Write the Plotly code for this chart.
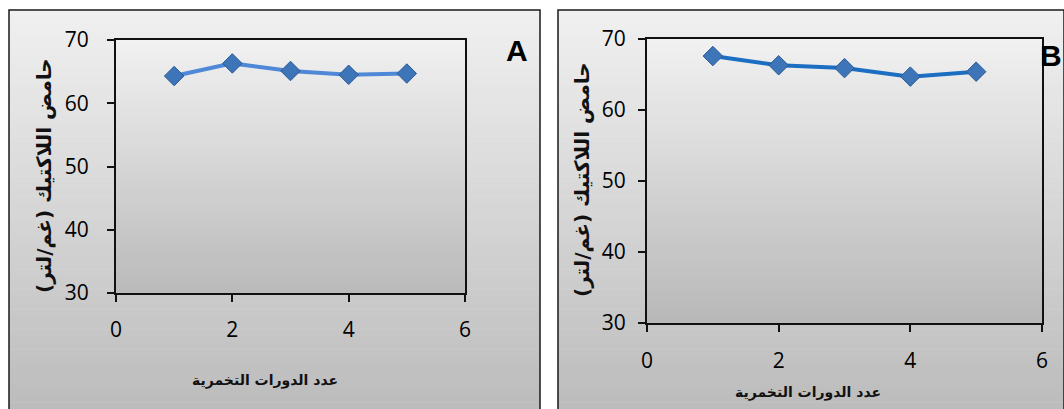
import plotly.graph_objects as go

W, H = 1064, 409

cycles = [1, 2, 3, 4, 5]
lactic_A = [64.3, 66.3, 65.1, 64.5, 64.7]
lactic_B = [67.6, 66.3, 65.9, 64.7, 65.4]
x_ticks = [0, 2, 4, 6]
y_ticks = [30, 40, 50, 60, 70]
y_title = "حامض اللاكتيك (غم/لتر)"
x_title = "عدد الدورات التخمرية"

def px(x):
    return x / W

def py(y):
    return 1 - y / H

def lerp(c0, c1, t):
    return "rgb(%d,%d,%d)" % tuple(round(a + (b - a) * t) for a, b in zip(c0, c1))

def gradient(x0, x1, y0, y1, ctop, cbot, n=60):
    shapes = []
    h = (y1 - y0) / n
    for i in range(n):
        t = i / (n - 1)
        shapes.append(dict(type="rect", xref="paper", yref="paper", layer="below",
                           x0=px(x0), x1=px(x1), y0=py(y0 + h * (i + 1) + 0.5), y1=py(y0 + h * i),
                           fillcolor=lerp(ctop, cbot, t), line=dict(width=0)))
    return shapes

shapes = []
# outer frames
shapes += gradient(9, 540, 10, 409, (240, 240, 240), (188, 188, 188))
shapes += gradient(558, 1064, 10, 409, (240, 240, 240), (188, 188, 188))
# plot areas
shapes += gradient(116, 465, 40, 293, (241, 241, 241), (186, 186, 186))
shapes += gradient(647, 1042, 39, 323, (241, 241, 241), (184, 184, 184))
# frame borders (open at the bottom / right, as in the cropped reference)
for (a, b) in [(9, 540), (558, 1064)]:
    shapes.append(dict(type="path", xref="paper", yref="paper", layer="above",
                       path="M %f,%f L %f,%f L %f,%f L %f,%f" % (px(a), 0, px(a), py(10), px(b), py(10), px(b), 0),
                       line=dict(color="#1a1a1a", width=1.5)))

fig = go.Figure()
fig.add_trace(go.Scatter(x=cycles, y=lactic_A, mode="lines+markers", xaxis="x", yaxis="y",
                         line=dict(color="#4f88d6", width=4),
                         marker=dict(symbol="diamond", size=15, color="#3e74b8",
                                     line=dict(color="#2b5a94", width=1)),
                         showlegend=False))
fig.add_trace(go.Scatter(x=cycles, y=lactic_B, mode="lines+markers", xaxis="x2", yaxis="y2",
                         line=dict(color="#1b6ec2", width=4),
                         marker=dict(symbol="diamond", size=15, color="#3e74b8",
                                     line=dict(color="#2b5a94", width=1)),
                         showlegend=False))

tickfont = dict(family="Open Sans", size=21, color="#000000")
common_x = dict(range=[0, 6], tickvals=x_ticks, ticks="outside", ticklen=7, tickwidth=1.5,
                tickcolor="#111", showline=True, linecolor="#111", linewidth=2, mirror=True,
                showgrid=False, zeroline=False, tickfont=tickfont, fixedrange=True, automargin=False)
common_y = dict(range=[30, 70], tickvals=y_ticks, ticks="outside", ticklen=7, tickwidth=1.5,
                tickcolor="#111", showline=True, linecolor="#111", linewidth=2, mirror=True,
                showgrid=False, zeroline=False, tickfont=tickfont, fixedrange=True, automargin=False)

fig.update_layout(
    width=W, height=H, margin=dict(l=0, r=0, t=0, b=0, pad=0), autosize=False,
    paper_bgcolor="white", plot_bgcolor="rgba(0,0,0,0)",
    xaxis=dict(domain=[px(116), px(465)], anchor="y", ticklabelstandoff=10, **common_x),
    yaxis=dict(domain=[py(293), py(40)], anchor="x", ticklabelstandoff=14, **common_y),
    xaxis2=dict(domain=[px(647), px(1042)], anchor="y2", ticklabelstandoff=11, **common_x),
    yaxis2=dict(domain=[py(323), py(39)], anchor="x2", ticklabelstandoff=8, **common_y),
    shapes=shapes,
)

xtitlefont = dict(family="DejaVu Sans", size=14, color="#111111", weight="bold")
ytitlefont = dict(family="DejaVu Sans", size=20, color="#111111", weight="bold")
ann = [
    dict(text=y_title, x=px(44), y=py(176), textangle=-90, font=ytitlefont, xanchor="center"),
    dict(text=y_title, x=px(582), y=py(180), textangle=-90, font=ytitlefont, xanchor="center"),
    dict(text=x_title, x=px(265), y=py(380), font=xtitlefont, xanchor="center"),
    dict(text=x_title, x=px(808), y=py(392), font=xtitlefont, xanchor="center"),
    dict(text="A", x=px(517), y=py(50), font=dict(family="Liberation Sans", size=30, color="black", weight="bold"), xanchor="center"),
    dict(text="B", x=px(1064), y=py(55), font=dict(family="Liberation Sans", size=30, color="black", weight="bold"), xanchor="right"),
]
for a in ann:
    a.update(xref="paper", yref="paper", showarrow=False, yanchor="middle")
    fig.add_annotation(**a)

fig.write_html("out.html")
